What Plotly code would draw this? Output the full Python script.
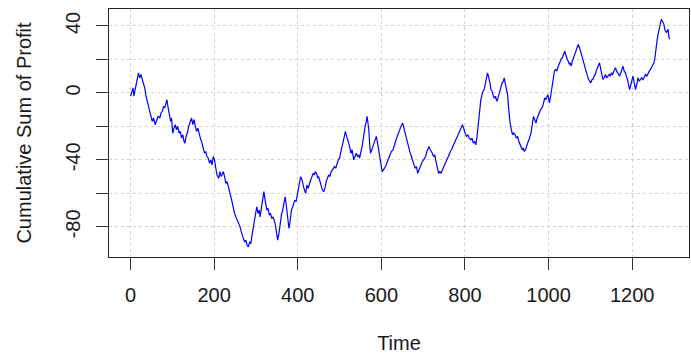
import plotly.graph_objects as go

# Cumulative profit over time (time index, running total)
time = [0, 3, 6, 8, 11, 14, 17, 19, 22, 25, 28, 31, 34, 37, 40, 43, 46, 49, 52, 55, 59,
        63, 66, 70, 73, 76, 79, 82, 85, 87, 90, 93, 96, 98, 101,
        104, 107, 110, 113, 116, 119, 122, 125, 128, 130, 133, 136, 139, 142, 146, 149, 152, 155, 158,
        161, 164, 167, 171, 174, 177, 180, 183, 186, 189, 192, 195, 198, 201, 204, 207, 211, 214, 217,
        220, 222, 225, 228, 231, 234, 238, 241, 244, 246, 249, 252, 254, 257, 260, 262, 265, 268, 270,
        273, 276, 279, 282, 285, 288, 290, 292, 294, 297, 300, 302, 305, 308, 310, 313, 316, 319, 322,
        324, 326, 329, 332, 335, 338, 341, 344, 346, 349, 352, 355, 358, 361, 364, 367, 370, 373, 376,
        379, 382, 385, 388, 390, 393, 396, 398, 401, 404, 407, 410, 413, 416, 419, 422, 425, 428, 431,
        434, 437, 440, 442, 445, 448, 450, 453, 456, 459, 462, 465, 468, 471, 474, 477, 480, 483, 485,
        488, 491, 494, 497, 500, 502, 505, 508, 511, 514, 517, 520, 522, 525, 527, 530, 532, 534, 537,
        540, 543, 546, 548, 551, 554, 557, 559, 562, 564, 566, 568, 570, 572, 574, 577, 580, 582, 585,
        588, 591, 594, 597, 600, 602, 605, 608, 610, 613, 616, 618, 621, 624, 628, 631, 634, 638, 641,
        644, 647, 651, 654, 658, 661, 664, 666, 669, 672, 675, 678, 681, 684, 687, 690, 693, 696, 698,
        701, 704, 706, 709, 712, 714, 717, 720, 722, 725, 728, 730, 733, 735, 737, 740, 743, 746, 750,
        753, 756, 759, 762, 765, 768, 771, 774, 777, 780, 782, 785, 788, 791, 794, 797, 800, 804, 807,
        810, 814, 817, 820, 823, 826, 829, 831, 834, 836, 838, 841, 843, 846, 849, 852, 854, 857, 860,
        862, 865, 868, 870, 873, 876, 878, 881, 884, 886, 889, 892, 894, 897, 900, 902, 904, 906, 908,
        911, 914, 917, 920, 923, 926, 929, 932, 934, 937, 940, 942, 945, 948, 950, 953, 956, 958, 961,
        964, 967, 970, 973, 976, 978, 981, 984, 986, 989, 991, 994, 996, 998, 1000, 1002, 1005, 1007,
        1010, 1012, 1014, 1017, 1020, 1022, 1025, 1028, 1030, 1033, 1036, 1039, 1042, 1045, 1047, 1050,
        1052, 1054, 1057, 1060, 1063, 1066, 1069, 1071, 1074, 1077, 1080, 1082, 1085, 1088, 1090, 1093,
        1096, 1098, 1101, 1104, 1106, 1109, 1112, 1114, 1117, 1120, 1122, 1125, 1128, 1130, 1133, 1136,
        1139, 1142, 1145, 1148, 1150, 1153, 1156, 1160, 1163, 1166, 1170, 1173, 1176, 1178, 1181, 1184,
        1186, 1189, 1192, 1194, 1197, 1200, 1202, 1205, 1208, 1211, 1214, 1217, 1220, 1223, 1226, 1229,
        1232, 1235, 1238, 1241, 1244, 1246, 1249, 1252, 1254, 1256, 1258, 1260, 1262, 1264, 1266, 1268,
        1270, 1272, 1274, 1276, 1278, 1280, 1282, 1284, 1286, 1288, 1290]

profit = [-2, 1, 3, -2, 2, 6, 9, 12, 9, 11, 8, 5, 3, -2, -5, -9, -12, -15, -17, -15, -19,
          -16, -14, -15, -12, -11, -8, -9, -6, -4, -9, -13, -17, -15, -24,
          -21, -19, -22, -20, -24, -23, -27, -25, -29, -30, -26, -24, -20, -18, -15, -19, -16, -20, -23,
          -21, -25, -27, -30, -33, -36, -35, -38, -39, -42, -40, -43, -38, -40, -45, -49, -51, -47, -50,
          -48, -47, -50, -54, -53, -57, -60, -63, -67, -70, -72, -74, -75, -77, -79, -80, -83, -86, -87,
          -89, -88, -91, -92, -89, -90, -86, -83, -80, -75, -71, -68, -72, -70, -74, -68, -63, -59, -64,
          -68, -70, -69, -73, -72, -75, -74, -77, -78, -83, -88, -84, -78, -73, -70, -66, -62, -68, -74,
          -81, -76, -70, -68, -66, -64, -65, -62, -58, -55, -50, -52, -56, -58, -60, -55, -57, -54, -52,
          -50, -48, -49, -47, -48, -51, -50, -53, -56, -58, -59, -57, -53, -51, -49, -50, -47, -46, -45,
          -44, -45, -42, -40, -39, -36, -33, -30, -26, -23, -26, -28, -30, -33, -36, -34, -38, -40, -38,
          -36, -38, -37, -39, -36, -32, -27, -22, -19, -17, -14, -18, -22, -30, -36, -34, -32, -30, -28,
          -26, -30, -34, -39, -44, -47, -46, -45, -44, -42, -40, -38, -37, -35, -34, -31, -29, -26, -24,
          -21, -20, -18, -21, -25, -28, -31, -34, -36, -38, -41, -43, -45, -44, -48, -46, -44, -42, -41,
          -40, -39, -38, -35, -33, -32, -34, -35, -36, -38, -37, -40, -44, -46, -48, -47, -48, -46, -44,
          -42, -41, -39, -37, -35, -34, -32, -30, -29, -27, -26, -24, -22, -21, -19, -21, -24, -26, -25,
          -27, -28, -27, -30, -29, -31, -26, -20, -13, -8, -4, -1, 1, 2, 6, 9, 12, 9, 6,
          2, 1, -2, -3, -2, -5, -4, -1, 2, 4, 6, 7, 9, 5, 1, -1, -8, -14, -18,
          -22, -25, -24, -25, -27, -26, -29, -31, -33, -34, -33, -35, -34, -31, -30, -28, -26, -24, -19,
          -14, -16, -18, -15, -13, -12, -10, -9, -8, -5, -3, -4, -2, -1, -3, -6, -2, 2,
          7, 10, 13, 14, 13, 15, 17, 18, 20, 21, 23, 25, 22, 20, 19, 17,
          18, 16, 19, 21, 23, 26, 27, 29, 27, 25, 22, 20, 17, 14, 12, 10,
          8, 7, 6, 8, 8, 10, 11, 13, 15, 16, 18, 14, 10, 8, 9, 11,
          9, 10, 11, 10, 12, 11, 13, 15, 13, 12, 10, 12, 14, 16, 13, 12,
          10, 8, 4, 2, 5, 8, 10, 6, 2, 5, 9, 7, 8, 9, 8, 10,
          11, 10, 12, 13, 14, 15, 17, 18, 20, 25, 29, 32, 35, 38, 40, 42,
          44, 43, 42, 41, 38, 37, 36, 37, 38, 33, 32]

x_ticks = [0, 200, 400, 600, 800, 1000, 1200]
y_ticks = [-80, -60, -40, -20, 0, 20, 40]
y_labels = ["-80", "", "-40", "", "0", "", "40"]

FONT = "Liberation Sans, Arial, sans-serif"
GRID = dict(showgrid=True, gridcolor="#d3d3d3", griddash="dot", gridwidth=1)

fig = go.Figure(
    go.Scatter(x=time, y=profit, mode="lines",
               line=dict(color="#0000ff", width=1.2), hoverinfo="skip")
)

fig.update_layout(
    width=691, height=354,
    margin=dict(l=109, r=2, t=9, b=97),
    paper_bgcolor="white", plot_bgcolor="white",
    font=dict(family=FONT, size=20, color="#1a1a1a"),
    showlegend=False,
)

fig.update_xaxes(
    range=[-51.5, 1336], tickvals=x_ticks, ticktext=[str(v) for v in x_ticks],
    ticks="outside", ticklen=12, tickcolor="#333", tickwidth=1,
    showline=True, linecolor="#222", linewidth=1, mirror=True, zeroline=False,
    ticklabelstandoff=8,
    title=dict(text="Time", standoff=31, font=dict(size=20)),
    **GRID,
)
fig.update_yaxes(
    range=[-98.0, 50.1], tickvals=y_ticks, ticktext=y_labels, tickangle=-90,
    ticks="outside", ticklen=12, tickcolor="#333", tickwidth=1,
    showline=True, linecolor="#222", linewidth=1, mirror=True, zeroline=False,
    ticklabelstandoff=8,
    title=dict(text="Cumulative Sum of Profit", standoff=25, font=dict(size=20)),
    **GRID,
)

fig.write_html("out.html")
